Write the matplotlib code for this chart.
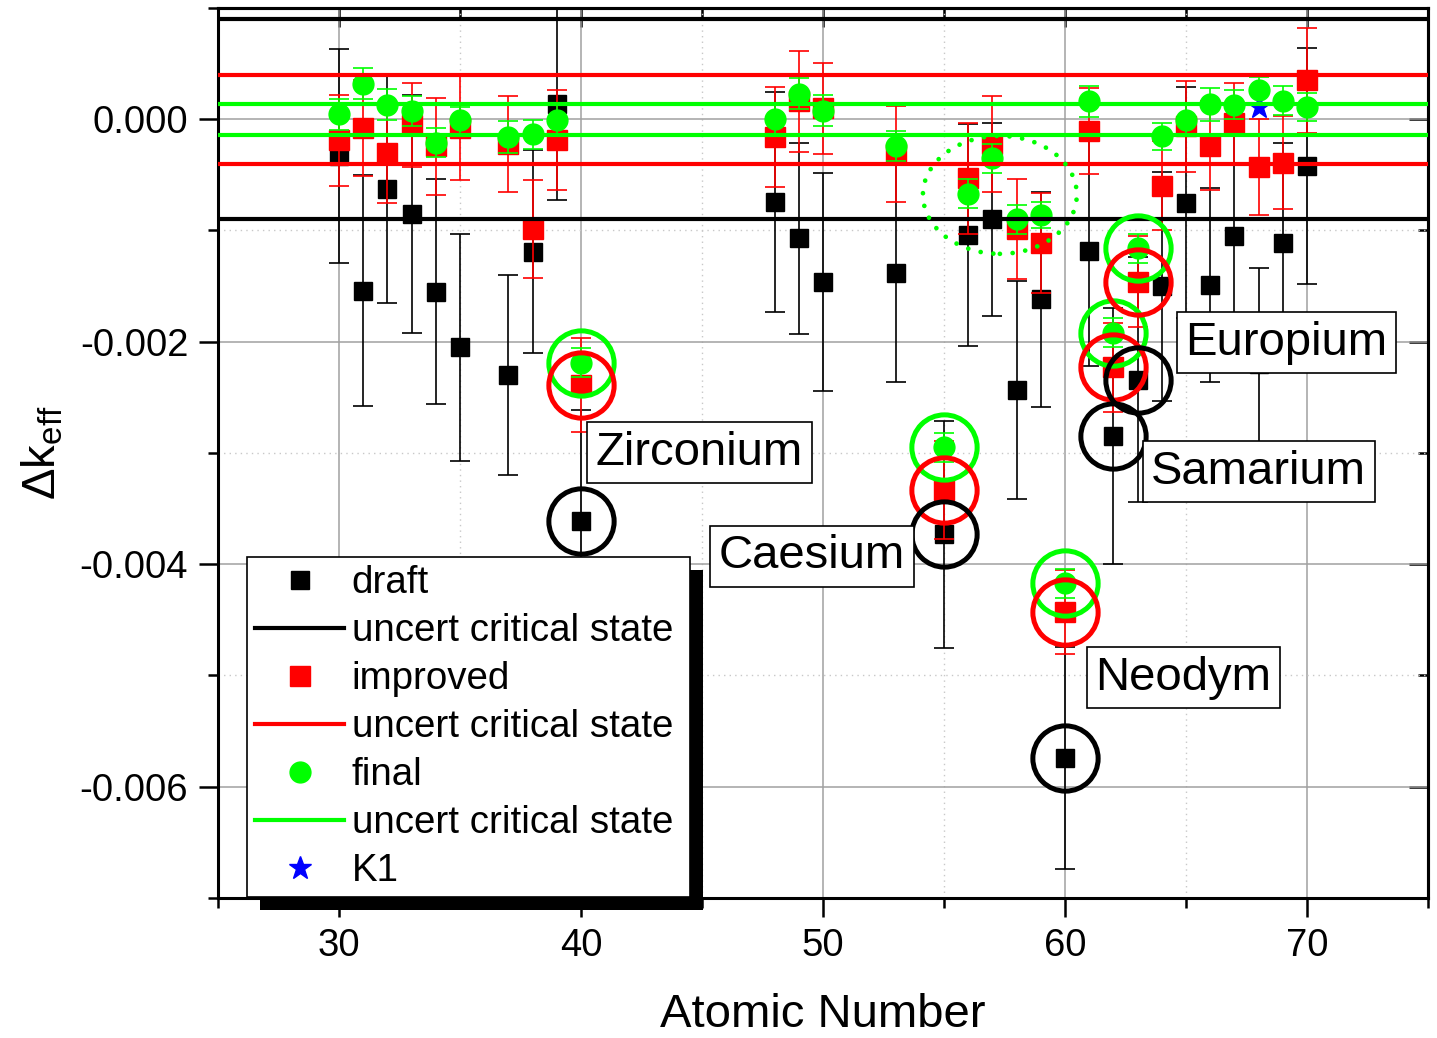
import numpy as np
import matplotlib.pyplot as plt
from matplotlib.lines import Line2D
from matplotlib.patches import Ellipse, Rectangle
from matplotlib.ticker import MultipleLocator, FuncFormatter
import matplotlib.transforms as mtransforms

plt.rcParams['font.family'] = ['Liberation Sans', 'DejaVu Sans']
plt.rcParams['mathtext.fontset'] = 'custom'
plt.rcParams['mathtext.rm'] = 'Liberation Sans'
plt.rcParams['axes.unicode_minus'] = False

# atomic numbers of the fission products
atomic_number = np.array([30, 31, 32, 33, 34, 35, 37, 38, 39, 40,
                          48, 49, 50, 53, 55, 56, 57, 58, 59, 60,
                          61, 62, 63, 64, 65, 66, 67, 68, 69, 70])

# delta k_eff values (in units of 1e-3)
draft = np.array([-0.33, -1.54, -0.63, -0.85, -1.55, -2.05, -2.30, -1.19, 0.14, -3.61,
                  -0.745, -1.07, -1.46, -1.38, -3.73, -1.04, -0.90, -2.43, -1.62, -5.74,
                  -1.18, -2.85, -2.34, -1.50, -0.75, -1.49, -1.05, -2.20, -1.11, -0.42])
draft_err = np.array([0.96, 1.04, 1.02, 1.07, 1.01, 1.02, 0.90, 0.91, 0.87, 1.00,
                      0.99, 0.86, 0.98, 0.98, 1.02, 1.00, 0.87, 0.98, 0.97, 1.00,
                      1.04, 1.15, 1.10, 1.03, 1.04, 0.87, 1.00, 0.86, 0.90, 1.06])

improved = np.array([-0.19, -0.08, -0.30, -0.05, -0.245, -0.08, -0.22, -0.985, -0.19, -2.39,
                     -0.16, 0.16, 0.10, -0.31, -3.33, -0.53, -0.22, -0.99, -1.11, -4.43,
                     -0.105, -2.23, -1.46, -0.60, -0.065, -0.24, -0.03, -0.43, -0.39, 0.35])
improved_err = np.array([0.41, 0.43, 0.45, 0.38, 0.44, 0.47, 0.43, 0.44, 0.45, 0.42,
                         0.45, 0.45, 0.41, 0.43, 0.44, 0.50, 0.43, 0.45, 0.45, 0.38,
                         0.39, 0.40, 0.41, 0.40, 0.41, 0.40, 0.36, 0.43, 0.42, 0.47])

final = np.array([0.045, 0.32, 0.13, 0.07, -0.21, -0.01, -0.16, -0.135, -0.005, -2.19,
                  0.0, 0.23, 0.075, -0.24, -2.95, -0.67, -0.35, -0.90, -0.86, -4.17,
                  0.16, -1.92, -1.16, -0.155, -0.005, 0.135, 0.13, 0.26, 0.165, 0.11])
final_err = np.array([0.14, 0.14, 0.14, 0.135, 0.13, 0.12, 0.14, 0.13, 0.13, 0.13,
                      0.13, 0.14, 0.14, 0.135, 0.13, 0.13, 0.13, 0.13, 0.12, 0.13,
                      0.14, 0.13, 0.13, 0.12, 0.14, 0.15, 0.13, 0.12, 0.13, 0.13])

k1_x = [68]
k1_y = [0.11]

# uncertainty of the critical state for each library (1e-3)
draft_unc = 0.90
improved_unc = 0.40
final_unc = 0.14

# highlighted elements
circled_z = [40, 55, 60, 62, 63]
element_names = ['Zirconium', 'Caesium', 'Neodym', 'Samarium', 'Europium']
label_pos = [(44.9, -3.00), (49.55, -3.93), (64.9, -5.02), (68.0, -3.17), (69.15, -2.01)]

scale = 1e-3
green = '#00ff00'

fig = plt.figure(figsize=(14.37, 10.38), dpi=100)
ax = fig.add_axes([0.1517, 0.1349, 0.842, 0.8574])

ax.errorbar(atomic_number, draft * scale, yerr=draft_err * scale, fmt='s', color='black',
            ms=12.5, elinewidth=1.2, capsize=7.5, capthick=1.2, zorder=3)
ax.errorbar(atomic_number, improved * scale, yerr=improved_err * scale, fmt='s', color='red',
            ms=14, elinewidth=1.2, capsize=7.5, capthick=1.2, zorder=3.1)
ax.errorbar(atomic_number, final * scale, yerr=final_err * scale, fmt='o', color=green,
            ms=15, elinewidth=1.2, capsize=7.5, capthick=1.2, zorder=3.2)
ax.plot(k1_x, np.array(k1_y) * scale, '*', color='blue', ms=17, zorder=3.3)

for unc, col in [(draft_unc, 'black'), (improved_unc, 'red'), (final_unc, green)]:
    ax.axhline(unc * scale, color=col, lw=3, zorder=3.5)
    ax.axhline(-unc * scale, color=col, lw=3, zorder=3.5)

# circles around the highlighted elements
mask = np.isin(atomic_number, circled_z)
ax.plot(atomic_number[mask], final[mask] * scale, 'o', mfc='none', mec=green, ms=47, mew=3.6, zorder=3.6)
ax.plot(atomic_number[mask], improved[mask] * scale, 'o', mfc='none', mec='red', ms=47, mew=3.6, zorder=3.7)
ax.plot(atomic_number[mask], draft[mask] * scale, 'o', mfc='none', mec='black', ms=47, mew=3.6, zorder=3.8)

# dotted ellipse around 56-59
ell = Ellipse((57.31, -0.68 * scale), width=6.36, height=1.06 * scale, fill=False,
              edgecolor=green, lw=3.4, linestyle=(0, (0.01, 2.7)), zorder=3.9)
ell.set_capstyle('round')
ax.add_patch(ell)

for name, (lx, ly) in zip(element_names, label_pos):
    ax.text(lx, ly * scale, name, fontsize=34, ha='center', va='center', zorder=6,
            bbox=dict(boxstyle='square,pad=0.18', fc='white', ec='black', lw=1.2))

ax.set_xlim(25, 75)
ax.set_ylim(-0.007, 0.001)
ax.xaxis.set_major_locator(MultipleLocator(10))
ax.xaxis.set_minor_locator(MultipleLocator(5))
ax.yaxis.set_major_locator(MultipleLocator(0.002))
ax.yaxis.set_minor_locator(MultipleLocator(0.001))
ax.yaxis.set_major_formatter(FuncFormatter(lambda v, p: '%.3f' % v))

ax.grid(which='major', color='#a0a0a0', lw=1.1, zorder=0)
ax.grid(which='minor', color='#c8c8c8', lw=1.0, linestyle=(0, (1, 3)), zorder=0)
ax.set_axisbelow(True)

ax.tick_params(which='major', direction='out', length=13.5, width=1.8, labelsize=27.5, pad=8)
ax.tick_params(which='minor', direction='out', length=7, width=1.8)
for s in ax.spines.values():
    s.set_linewidth(2.2)

top = ax.secondary_xaxis('top')
top.xaxis.set_major_locator(MultipleLocator(10))
top.xaxis.set_minor_locator(MultipleLocator(5))
top.tick_params(which='major', direction='in', length=13.5, width=1.8, labeltop=False)
top.tick_params(which='minor', direction='in', length=7, width=1.8)
right = ax.secondary_yaxis('right')
right.yaxis.set_major_locator(MultipleLocator(0.002))
right.yaxis.set_minor_locator(MultipleLocator(0.001))
right.tick_params(which='major', direction='in', length=13.5, width=1.8, labelright=False)
right.tick_params(which='minor', direction='in', length=7, width=1.8)
for s in list(top.spines.values()) + list(right.spines.values()):
    s.set_linewidth(2.2)

ax.set_xlabel('Atomic Number', fontsize=34, labelpad=21)
ax.set_ylabel('Δk$_\\mathregular{eff}$', fontsize=34, labelpad=10)

handles = [
    Line2D([], [], ls='none', marker='s', color='black', ms=12.5),
    Line2D([], [], color='black', lw=3),
    Line2D([], [], ls='none', marker='s', color='red', ms=14),
    Line2D([], [], color='red', lw=3),
    Line2D([], [], ls='none', marker='o', color=green, ms=15),
    Line2D([], [], color=green, lw=3),
    Line2D([], [], ls='none', marker='*', color='blue', ms=17),
]
labels = ['draft', 'uncert critical state', 'improved', 'uncert critical state',
          'final', 'uncert critical state', 'K1']
leg = ax.legend(handles, labels, loc='upper left',
                bbox_to_anchor=(247 / 1437, 140 / 1038, 443 / 1437, 341 / 1038),
                bbox_transform=fig.transFigure, mode='expand', borderaxespad=0, fontsize=27.7,
                fancybox=False, framealpha=1, edgecolor='black', handlelength=2.3,
                handletextpad=0.2, labelspacing=0.31, borderpad=0.22)
leg.get_frame().set_linewidth(1.2)

# thick black shadow behind the legend
fig.canvas.draw()
bb = leg.get_window_extent(fig.canvas.get_renderer())
shadow = Rectangle((bb.x0 + 13, bb.y0 - 13), bb.width, bb.height, facecolor='black',
                   edgecolor='none', transform=mtransforms.IdentityTransform(),
                   clip_on=False, zorder=4.9)
ax.add_patch(shadow)

fig.savefig('out.png', dpi=100)
